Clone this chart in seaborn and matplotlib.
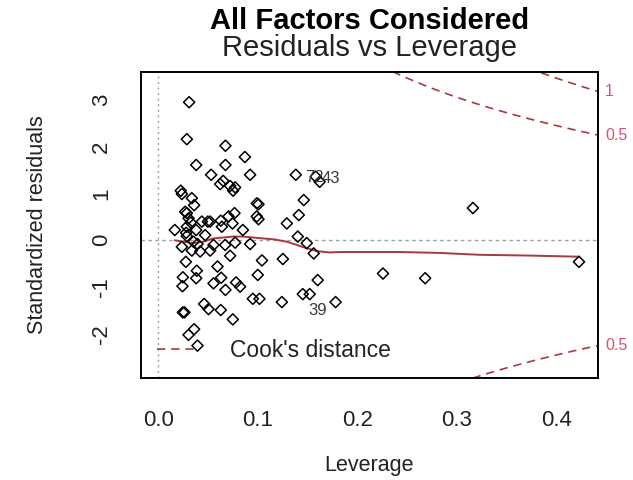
import matplotlib
matplotlib.use("Agg")
import numpy as np
import pandas as pd
import matplotlib.pyplot as plt
from matplotlib.lines import Line2D
import seaborn as sns

# Observations: hat values (leverage) and standardized residuals.
# The first three are the identified observations.
obs_labels = ["72", "43", "39"]
leverage = [
    0.138, 0.158, 0.178,
    0.0308, 0.0285, 0.0673, 0.0868, 0.0379, 0.0673, 0.0529, 0.0921, 0.162,
    0.062, 0.065, 0.072, 0.077, 0.075, 0.0224, 0.0235, 0.0335, 0.0358,
    0.0988, 0.1005, 0.146, 0.0268, 0.0285, 0.0764, 0.0704, 0.0988, 0.1005,
    0.141, 0.129, 0.0302, 0.0325, 0.0436, 0.0496, 0.0519, 0.0626, 0.0744,
    0.0164, 0.0285, 0.0278, 0.0379, 0.0637, 0.0848, 0.0469, 0.0285, 0.140,
    0.0352, 0.0392, 0.0235, 0.0553, 0.067, 0.077, 0.0921, 0.149, 0.0335,
    0.0419, 0.0519, 0.156, 0.072, 0.125, 0.104, 0.0275, 0.0593, 0.0385,
    0.0998, 0.0245, 0.0379, 0.063, 0.160, 0.0553, 0.078, 0.082, 0.0241,
    0.0673, 0.145, 0.152, 0.0948, 0.1015, 0.124, 0.0459, 0.0503, 0.0626,
    0.0245, 0.0261, 0.0747, 0.0358, 0.0302, 0.0392,
    0.2256, 0.268, 0.316, 0.4226,
]
std_resid = [
    1.40, 1.36, -1.32,
    2.95, 2.16, 2.02, 1.78, 1.61, 1.61, 1.40, 1.40, 1.25,
    1.20, 1.27, 1.16, 1.13, 1.06, 1.06, 0.99, 0.90, 0.75,
    0.79, 0.77, 0.86, 0.61, 0.58, 0.58, 0.51, 0.51, 0.45,
    0.54, 0.36, 0.47, 0.38, 0.40, 0.40, 0.40, 0.42, 0.36,
    0.22, 0.29, 0.16, 0.22, 0.29, 0.22, 0.11, 0.09, 0.08,
    -0.03, -0.08, -0.14, -0.10, -0.10, -0.05, -0.08, -0.06, -0.22,
    -0.24, -0.22, -0.28, -0.33, -0.40, -0.43, -0.46, -0.56, -0.65,
    -0.74, -0.79, -0.81, -0.80, -0.85, -0.92, -0.90, -0.99, -0.98,
    -1.06, -1.15, -1.15, -1.25, -1.25, -1.32, -1.36, -1.47, -1.49,
    -1.54, -1.54, -1.69, -1.90, -2.02, -2.25,
    -0.71, -0.81, 0.69, -0.46,
]

# Smoothed trend of residuals against leverage
smooth_lev = [0.0164, 0.025, 0.035, 0.045, 0.055, 0.065, 0.075, 0.085, 0.100,
              0.116, 0.129, 0.139, 0.149, 0.159, 0.172, 0.182, 0.243, 0.263,
              0.283, 0.323, 0.370, 0.4226]
smooth_res = [0.00, -0.03, -0.06, -0.03, 0.04, 0.06, 0.08, 0.08, 0.05,
              0.02, -0.03, -0.10, -0.17, -0.23, -0.26, -0.25, -0.25, -0.26,
              -0.27, -0.31, -0.325, -0.35]

# Cook's distance contour levels and number of model parameters
cook_levels = [0.5, 1]
n_params = 8

x_ticks = [0.0, 0.1, 0.2, 0.3, 0.4]
y_ticks = [-2, -1, 0, 1, 2, 3]

RED_LINE = "#a8393f"
RED_TEXT = "#d9536b"

sns.set_style("white")
plt.rcParams["font.family"] = ["Liberation Sans", "DejaVu Sans"]

fig = plt.figure(figsize=(6.33, 4.8), dpi=100)
ax = fig.add_axes([0.2227, 0.2125, 0.722, 0.6375])

xlim = (-0.0176, 0.4417)
ylim = (-2.942, 3.596)

# reference lines at zero
ax.axhline(0, color="#a0a0a0", lw=1.0, ls=(0, (2.5, 2.5)), zorder=1)
ax.axvline(0, color="#a0a0a0", lw=1.0, ls=(0, (1.5, 2.5)), zorder=1)

df = pd.DataFrame({"Leverage": leverage, "Standardized residuals": std_resid})
sns.scatterplot(data=df, x="Leverage", y="Standardized residuals", ax=ax,
                marker="D", s=32, facecolor="none", edgecolor="black",
                linewidth=1.1, zorder=3)

smooth_df = pd.DataFrame({"h": smooth_lev, "r": smooth_res})
sns.lineplot(data=smooth_df, x="h", y="r", ax=ax, color=RED_LINE, lw=1.4,
             sort=False, estimator=None, zorder=2)

# Cook's distance contours
hh = np.linspace(0.001, xlim[1], 200)
for lvl in cook_levels:
    cl = np.sqrt(lvl * n_params * (1 - hh) / hh)
    for sgn in (1, -1):
        ax.plot(hh, sgn * cl, color=RED_LINE, lw=1.2, ls=(0, (5, 3.5)), zorder=2)
    edge = np.sqrt(lvl * n_params * (1 - xlim[1]) / xlim[1])
    for sgn in (1, -1):
        val = sgn * edge
        if ylim[0] < val < ylim[1]:
            ax.annotate(f"{lvl:g}", xy=(xlim[1], val), xytext=(5, 0),
                        textcoords="offset points", ha="left", va="center",
                        fontsize=11.5, color=RED_TEXT, annotation_clip=False)

# identified observations
label_offsets = [(6.5, -2.2, "left"), (4.0, -1.0, "left"), (-6.0, -5.8, "right")]
for name, (dx, dy, ha) in zip(obs_labels, label_offsets):
    i = obs_labels.index(name)
    ax.annotate(name, xy=(leverage[i], std_resid[i]), xytext=(dx, dy),
                textcoords="offset points", ha=ha, va="center",
                fontsize=12, color="#3a3a3a")

ax.set_xlim(*xlim)
ax.set_ylim(*ylim)
ax.set_xticks(x_ticks)
ax.set_xticklabels([f"{v:.1f}" for v in x_ticks])
ax.set_yticks(y_ticks)
ax.set_yticklabels([str(v) for v in y_ticks], rotation=90, va="center")
ax.tick_params(axis="both", direction="out", length=11, width=1.3,
               labelsize=16, color="black", labelcolor="#222222")
ax.tick_params(axis="x", pad=12)
ax.tick_params(axis="y", pad=10)
for sp in ax.spines.values():
    sp.set_visible(True)
    sp.set_color("black")
    sp.set_linewidth(1.4)

ax.set_xlabel("Leverage", fontsize=15.5, color="#222222", labelpad=17)
ax.set_ylabel("Standardized residuals", fontsize=15.5, color="#222222", labelpad=31)

legend_handle = Line2D([], [], color=RED_LINE, lw=1.2, ls=(0, (5, 3.5)))
ax.legend([legend_handle], ["Cook's distance"], loc="lower left", frameon=False,
          fontsize=16.5, handlelength=1.8, handletextpad=1.4, borderaxespad=0.3,
          labelcolor="#222222")

cx = 0.2227 + 0.722 / 2
fig.text(cx, 1 - 21 / 480, "All Factors Considered", ha="center", va="center",
         fontsize=21, fontweight="bold", color="black")
fig.text(cx, 1 - 48 / 480, "Residuals vs Leverage", ha="center", va="center",
         fontsize=21, color="#222222")

fig.savefig("out.png", dpi=100)
